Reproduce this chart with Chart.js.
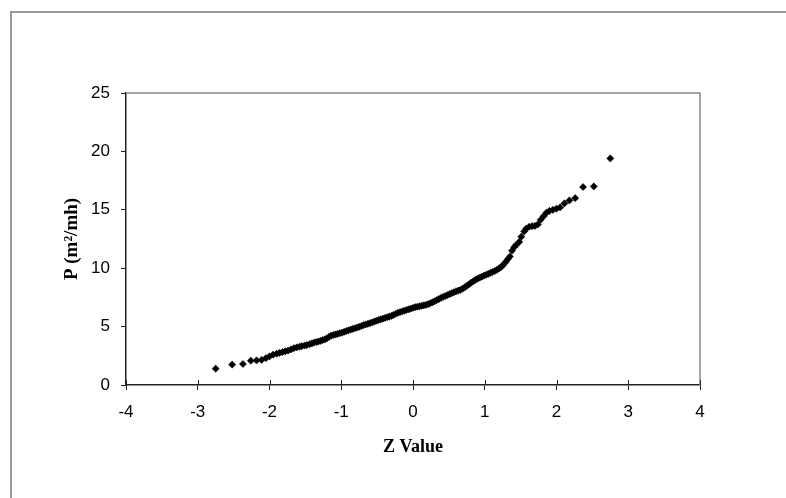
<!DOCTYPE html>
<html>
<head>
<meta charset="utf-8">
<script src="https://cdn.jsdelivr.net/npm/chart.js@4"></script>
<style>
  body { margin: 0; background: #fff; }
  #wrap { position: relative; width: 786px; height: 498px; overflow: hidden; }
  #frame { position: absolute; left: 10px; top: 11px; width: 800px; height: 500px;
           border-left: 2px solid #9a9a9a; border-top: 2px solid #9a9a9a; }
  canvas { position: absolute; left: 0; top: 0; }
</style>
</head>
<body>
<div id="wrap">
  <div id="frame"></div>
  <canvas id="qq" width="786" height="498"></canvas>
</div>
<script>
const zValues = [
  -2.75, -2.52, -2.37, -2.26, -2.18, -2.11, -2.05, -2.00, -1.95, -1.90,
  -1.86, -1.82, -1.78, -1.74, -1.70, -1.66, -1.62, -1.58, -1.55, -1.51,
  -1.48, -1.44, -1.41, -1.38, -1.35, -1.32, -1.29, -1.26, -1.23, -1.20,
  -1.17, -1.14, -1.11, -1.08, -1.05, -1.02, -0.99, -0.96, -0.93, -0.90,
  -0.87, -0.84, -0.81, -0.78, -0.75, -0.72, -0.69, -0.66, -0.63, -0.60,
  -0.57, -0.54, -0.51, -0.48, -0.45, -0.42, -0.39, -0.36, -0.33, -0.30,
  -0.27, -0.24, -0.21, -0.18, -0.15, -0.12, -0.09, -0.06, -0.03, 0.00,
  0.03, 0.06, 0.09, 0.12, 0.15, 0.18, 0.21, 0.24, 0.27, 0.30,
  0.33, 0.36, 0.39, 0.42, 0.45, 0.48, 0.51, 0.54, 0.57, 0.60,
  0.63, 0.66, 0.69, 0.72, 0.75, 0.78, 0.81, 0.84, 0.87, 0.90,
  0.93, 0.96, 0.99, 1.02, 1.05, 1.08, 1.11, 1.14, 1.17, 1.20,
  1.23, 1.26, 1.29, 1.32, 1.35, 1.38, 1.41, 1.44, 1.48, 1.51,
  1.55, 1.58, 1.62, 1.66, 1.70, 1.74, 1.78, 1.82, 1.86, 1.90,
  1.95, 2.00, 2.05, 2.11, 2.18, 2.26, 2.37, 2.52, 2.75
];
const pValues = [
  1.40, 1.75, 1.80, 2.08, 2.10, 2.15, 2.30, 2.45, 2.60, 2.68,
  2.75, 2.82, 2.88, 2.95, 3.05, 3.15, 3.22, 3.28, 3.32, 3.38,
  3.42, 3.50, 3.56, 3.62, 3.68, 3.72, 3.78, 3.84, 3.90, 4.00,
  4.12, 4.22, 4.28, 4.33, 4.38, 4.43, 4.48, 4.55, 4.62, 4.68,
  4.74, 4.80, 4.86, 4.92, 4.98, 5.05, 5.12, 5.18, 5.24, 5.30,
  5.36, 5.42, 5.50, 5.56, 5.62, 5.68, 5.74, 5.80, 5.86, 5.92,
  6.00, 6.10, 6.18, 6.24, 6.30, 6.36, 6.42, 6.48, 6.54, 6.60,
  6.66, 6.70, 6.74, 6.78, 6.82, 6.86, 6.92, 7.00, 7.08, 7.16,
  7.26, 7.36, 7.46, 7.54, 7.62, 7.70, 7.78, 7.86, 7.94, 8.02,
  8.08, 8.14, 8.24, 8.36, 8.48, 8.62, 8.76, 8.88, 9.00, 9.10,
  9.20, 9.28, 9.36, 9.44, 9.52, 9.60, 9.68, 9.76, 9.86, 9.98,
  10.12, 10.30, 10.52, 10.76, 11.00, 11.50, 11.80, 12.00, 12.25, 12.70,
  13.15, 13.40, 13.55, 13.60, 13.62, 13.75, 14.15, 14.45, 14.75, 14.90,
  15.00, 15.10, 15.20, 15.55, 15.80, 16.00, 16.95, 17.00, 19.40
];
const xTicks = [-4, -3, -2, -1, 0, 1, 2, 3, 4];
const yTicks = [0, 5, 10, 15, 20, 25];

const points = zValues.map((z, i) => ({ x: z, y: pValues[i] }));

// top/right plot border in grey, plus the upper half of the x ticks
const plotFrame = {
    id: 'plotFrame',
    afterDraw(chart) {
        const { ctx, chartArea: a, scales } = chart;
        ctx.save();
        ctx.strokeStyle = '#8a8a8a';
        ctx.lineWidth = 1.5;
        ctx.beginPath();
        ctx.moveTo(a.left, a.top);
        ctx.lineTo(a.right, a.top);
        ctx.lineTo(a.right, a.bottom);
        ctx.stroke();
        ctx.strokeStyle = '#222';
        ctx.lineWidth = 1;
        xTicks.forEach(v => {
            const px = Math.round(scales.x.getPixelForValue(v)) + 0.5;
            ctx.beginPath();
            ctx.moveTo(px, a.bottom);
            ctx.lineTo(px, a.bottom - 5);
            ctx.stroke();
        });
        ctx.restore();
    }
};

new Chart(document.getElementById('qq'), {
    type: 'scatter',
    data: {
        datasets: [{
            data: points,
            pointStyle: 'rectRot',
            pointRadius: 3.6,
            pointBackgroundColor: '#000',
            pointBorderColor: '#000',
            pointBorderWidth: 0.5
        }]
    },
    options: {
        responsive: false,
        animation: false,
        layout: { padding: { left: 0, top: 93, right: 86, bottom: 33 } },
        plugins: { legend: { display: false }, tooltip: { enabled: false } },
        scales: {
            x: {
                type: 'linear',
                min: -4, max: 4,
                afterBuildTicks: s => { s.ticks = xTicks.map(v => ({ value: v })); },
                afterFit: s => { s.height = 80; },
                grid: { drawOnChartArea: false, tickLength: 5, color: '#222' },
                border: { color: '#222', width: 1.5 },
                ticks: { color: '#000', padding: 12, font: { family: 'Liberation Sans', size: 17 } },
                title: {
                    display: true, text: 'Z Value', color: '#000',
                    padding: { top: 0, bottom: 7 },
                    font: { family: 'Liberation Serif', size: 18, weight: 'bold' }
                }
            },
            y: {
                type: 'linear',
                min: 0, max: 25,
                afterBuildTicks: s => { s.ticks = yTicks.map(v => ({ value: v })); },
                afterFit: s => { s.width = 126; },
                grid: { drawOnChartArea: false, tickLength: 5, color: '#222' },
                border: { color: '#222', width: 1.5 },
                ticks: { color: '#000', padding: 11, font: { family: 'Liberation Sans', size: 17 } },
                title: {
                    display: true, text: 'P (m²/mh)', color: '#000',
                    padding: { top: 61, bottom: 0 },
                    font: { family: 'Liberation Serif', size: 19, weight: 'bold' }
                }
            }
        }
    },
    plugins: [plotFrame]
});
</script>
</body>
</html>
